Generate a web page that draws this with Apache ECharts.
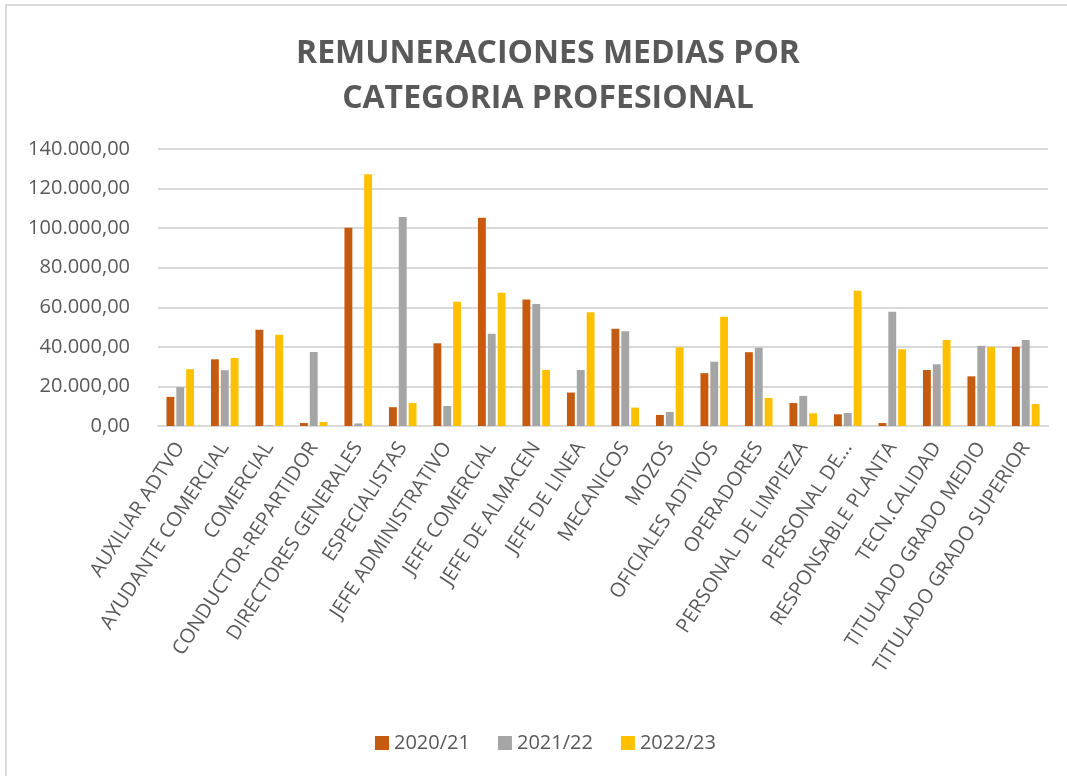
<!DOCTYPE html>
<html>
<head>
<meta charset="utf-8">
<script src="https://cdn.jsdelivr.net/npm/echarts@6/dist/echarts.min.js"></script>
<style>
  html, body { margin: 0; padding: 0; background: #fff; }
  #chart { width: 1067px; height: 776px; }
</style>
</head>
<body>
<div id="chart"></div>
<script>
// categorias profesionales
var categorias = [
  'AUXILIAR ADTVO', 'AYUDANTE COMERCIAL', 'COMERCIAL', 'CONDUCTOR-REPARTIDOR',
  'DIRECTORES GENERALES', 'ESPECIALISTAS', 'JEFE ADMINISTRATIVO', 'JEFE COMERCIAL',
  'JEFE DE ALMACEN', 'JEFE DE LINEA', 'MECANICOS', 'MOZOS', 'OFICIALES ADTIVOS',
  'OPERADORES', 'PERSONAL DE LIMPIEZA', 'PERSONAL DE...', 'RESPONSABLE PLANTA',
  'TECN.CALIDAD', 'TITULADO GRADO MEDIO', 'TITULADO GRADO SUPERIOR'
];

// remuneraciones por año
var anio2021 = [14700, 33700, 48600, 1500, 100200, 9500, 41800, 105300, 63900, 16900,
  49100, 5600, 26700, 37300, 11600, 5900, 1500, 28300, 25100, 40000];
var anio2122 = [19600, 28200, 300, 37400, 1300, 105600, 10100, 46600, 61700, 28300,
  47900, 7100, 32500, 39500, 15200, 6600, 57800, 31200, 40500, 43500];
var anio2223 = [28700, 34400, 46100, 2000, 127200, 11600, 62800, 67300, 28300, 57500,
  9300, 39800, 55200, 14200, 6400, 68300, 38800, 43500, 40000, 11100];

var series_names = ['2020/21', '2021/22', '2022/23'];

// formato español: 140.000,00
function formatoES(v) {
  var s = Math.round(v).toString().replace(/\B(?=(\d{3})+(?!\d))/g, '.');
  return s + ',00';
}

var chart = echarts.init(document.getElementById('chart'));
var textColor = '#595959';
var font = 'Open Sans';

var option = {
  backgroundColor: '#fff',
  color: ['#C55A11', '#A5A5A5', '#FFC000'],
  animation: false,
  graphic: [{
    type: 'rect',
    shape: { x: 6, y: 5, width: 1100, height: 800 },
    style: { fill: 'none', stroke: '#d9d9d9', lineWidth: 2 },
    silent: true
  }],
  title: {
    text: 'REMUNERACIONES MEDIAS POR\nCATEGORIA PROFESIONAL',
    left: 543,
    top: 26,
    textAlign: 'center',
    textStyle: {
      fontFamily: font,
      fontWeight: 'bold',
      fontSize: 32,
      lineHeight: 45,
      color: textColor
    }
  },
  legend: {
    data: series_names,
    top: 728,
    left: 370,
    itemWidth: 14,
    itemHeight: 14,
    itemGap: 28,
    icon: 'rect',
    textStyle: { fontFamily: font, fontSize: 20, color: textColor }
  },
  grid: {
    left: 158,
    right: 19,
    top: 149,
    bottom: 350,
    containLabel: false
  },
  xAxis: {
    type: 'category',
    data: categorias,
    axisLine: { lineStyle: { color: '#d9d9d9', width: 2 } },
    axisTick: { show: false },
    axisLabel: {
      interval: 0,
      rotate: 57,
      margin: 18,
      fontFamily: font,
      fontSize: 20,
      color: textColor
    }
  },
  yAxis: {
    type: 'value',
    min: 0,
    max: 140000,
    interval: 20000,
    axisLine: { show: false },
    axisTick: { show: false },
    splitLine: { lineStyle: { color: '#d9d9d9', width: 2 } },
    axisLabel: {
      formatter: formatoES,
      margin: 28,
      fontFamily: font,
      fontSize: 20,
      color: textColor
    }
  },
  series: [
    { name: series_names[0], type: 'bar', data: anio2021, barGap: '25%', barCategoryGap: '38%' },
    { name: series_names[1], type: 'bar', data: anio2122, barGap: '25%', barCategoryGap: '38%' },
    { name: series_names[2], type: 'bar', data: anio2223, barGap: '25%', barCategoryGap: '38%' }
  ]
};

chart.setOption(option);
</script>
</body>
</html>
